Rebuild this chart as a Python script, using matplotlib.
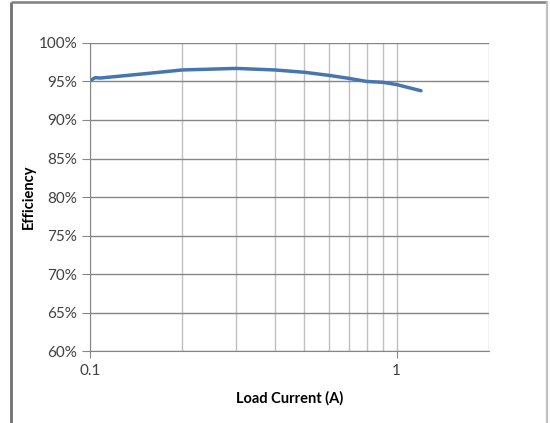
import matplotlib
matplotlib.use("Agg")
from matplotlib import pyplot as plt
from matplotlib.ticker import FixedLocator, NullFormatter, PercentFormatter

# data
load_current = [0.1, 0.104, 0.108, 0.15, 0.2, 0.3, 0.4, 0.5, 0.6, 0.7, 0.8, 0.9, 1.0, 1.2]
efficiency = [95.1, 95.5, 95.45, 96.0, 96.5, 96.7, 96.5, 96.2, 95.8, 95.4, 95.0, 94.9, 94.6, 93.8]

x_major = [0.1, 1]
x_minor = [0.2, 0.3, 0.4, 0.5, 0.6, 0.7, 0.8, 0.9, 2]
y_ticks = [60, 65, 70, 75, 80, 85, 90, 95, 100]

plt.rcParams['font.family'] = ['Lato', 'DejaVu Sans']

W, H = 550.0, 423.0
fig = plt.figure(figsize=(W / 100, H / 100), dpi=100)

# chart border like excel (left, top, right), drawn in a full-figure overlay axes
frame = fig.add_axes([0, 0, 1, 1], zorder=5)
frame.set_xlim(0, W)
frame.set_ylim(H, 0)
frame.axis('off')
frame.patch.set_alpha(0)
frame.plot([10.5, 10.5], [H + 5, 2.5], color='#707070', linewidth=2.0, solid_capstyle='butt')
frame.plot([10.5, 546.5], [2.5, 2.5], color='#808080', linewidth=1.8, solid_capstyle='butt')
frame.plot([546.5, 546.5], [2.5, H + 5], color='#c0c0c0', linewidth=1.6, solid_capstyle='butt')

ax = fig.add_axes([90 / W, 1 - 351 / H, 399 / W, 308 / H])
ax.plot(load_current, efficiency, color='#4676b0', linewidth=2.5, solid_capstyle='round')

ax.set_xscale('log')
ax.set_xlim(0.1, 2)
ax.set_ylim(60, 100)
ax.xaxis.set_major_locator(FixedLocator(x_major))
ax.xaxis.set_minor_locator(FixedLocator(x_minor))
ax.xaxis.set_major_formatter(plt.FuncFormatter(lambda v, p: '%g' % v))
ax.xaxis.set_minor_formatter(NullFormatter())
ax.yaxis.set_major_locator(FixedLocator(y_ticks))
ax.yaxis.set_major_formatter(PercentFormatter(decimals=0))

ax.grid(True, which='major', axis='y', color='#868686', linewidth=1.0)
ax.grid(True, which='both', axis='x', color='#c0c0c0', linewidth=1.0)
ax.set_axisbelow(True)

for s in ['top', 'right']:
    ax.spines[s].set_visible(False)
ax.spines['left'].set_color('#868686')
ax.spines['bottom'].set_color('#868686')

ax.tick_params(axis='y', which='major', length=6, color='#868686', labelsize=11, labelcolor='#404040', pad=3)
ax.tick_params(axis='x', which='major', length=5, color='#868686', labelsize=11, labelcolor='#404040', pad=4)
ax.tick_params(axis='x', which='minor', length=0)

ax.set_xlabel('Load Current (A)', fontsize=10.5, fontweight='bold', labelpad=10)
ax.set_ylabel('Efficiency', fontsize=10.5, fontweight='bold', labelpad=2)

plt.savefig('out.png', dpi=100)
